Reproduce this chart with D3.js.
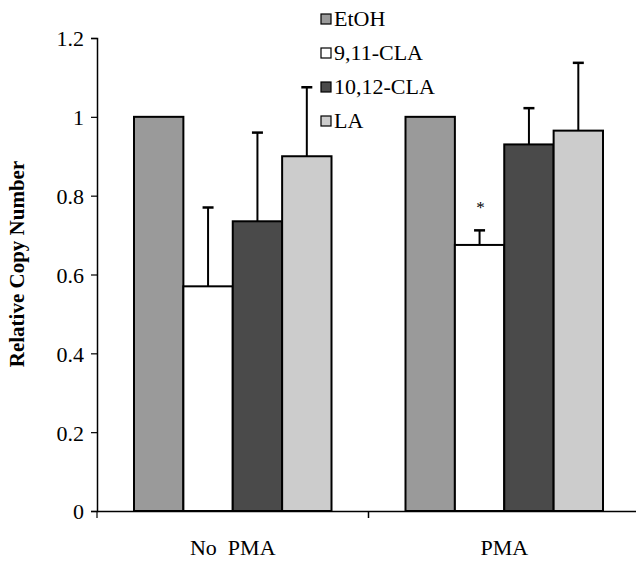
<!DOCTYPE html>
<html><head><meta charset="utf-8">
<script src="https://cdn.jsdelivr.net/npm/d3@7/dist/d3.min.js"></script>
<style>body{margin:0;background:#fff}svg{display:block}text{font-family:"Liberation Serif","Times New Roman",serif}</style>
</head><body>
<svg id="chart" width="636" height="563"></svg>
<script>
const groups = ["No PMA", "PMA"];
const series = ["EtOH", "9,11-CLA", "10,12-CLA", "LA"];
const noPmaValues = [1.0, 0.57, 0.735, 0.90];
const pmaValues = [1.0, 0.675, 0.93, 0.965];
const noPmaErrors = [0, 0.20, 0.225, 0.175];
const pmaErrors = [0, 0.037, 0.092, 0.172];
const yTicks = [0, 0.2, 0.4, 0.6, 0.8, 1, 1.2];
const yTickLabels = ["0", "0.2", "0.4", "0.6", "0.8", "1", "1.2"];
const significance = [{group: "PMA", series: "9,11-CLA", label: "*"}];

const fills = ["#9a9a9a", "#ffffff", "#4a4a4a", "#cccccc"];
const font = "Liberation Serif";

const svg = d3.select("#chart");
const y = d3.scaleLinear().domain([0, 1.2]).range([511, 38]);
const x0 = d3.scaleBand().domain(groups).range([97, 640]).padding(0);
const x1 = d3.scaleBand().domain(series).range([37, x0.bandwidth() - 37]).padding(0);

const data = groups.map((g, gi) => series.map((s, si) => ({
  group: g, series: s, si,
  value: gi === 0 ? noPmaValues[si] : pmaValues[si],
  err: gi === 0 ? noPmaErrors[si] : pmaErrors[si]
}))).flat();

// error bars (behind bars)
const eb = svg.append("g").attr("stroke", "#000").attr("stroke-width", 2);
data.filter(d => d.err > 0).forEach(d => {
  const cx = x0(d.group) + x1(d.series) + x1.bandwidth() / 2;
  eb.append("line").attr("x1", cx).attr("x2", cx).attr("y1", y(d.value)).attr("y2", y(d.value + d.err));
  eb.append("line").attr("x1", cx - 5.5).attr("x2", cx + 5.5).attr("y1", y(d.value + d.err)).attr("y2", y(d.value + d.err)).attr("stroke-width", 2.5);
});

// bars
svg.append("g").selectAll("rect").data(data).join("rect")
  .attr("x", d => x0(d.group) + x1(d.series))
  .attr("y", d => y(d.value))
  .attr("width", x1.bandwidth())
  .attr("height", d => y(0) - y(d.value))
  .attr("fill", d => fills[d.si])
  .attr("stroke", "#000").attr("stroke-width", 2);

// significance
svg.append("g").selectAll("text").data(significance).join("text")
  .attr("x", d => x0(d.group) + x1(d.series) + x1.bandwidth() / 2 + 1)
  .attr("y", d => {
    const i = series.indexOf(d.series);
    return y(pmaValues[i] + pmaErrors[i]) - 17;
  })
  .attr("text-anchor", "middle").attr("font-family", font).attr("font-size", 17)
  .text(d => d.label);

// y axis
const yAxis = d3.axisLeft(y).tickValues(yTicks).tickFormat((d, i) => yTickLabels[i]).tickSizeOuter(0).tickSize(6).tickPadding(7);
const gy = svg.append("g").attr("transform", "translate(97,0)").call(yAxis);
gy.select(".domain").attr("stroke", "#000").attr("stroke-width", 1.5);
gy.selectAll(".tick line").attr("stroke", "#000").attr("stroke-width", 1.2);
gy.selectAll(".tick text").attr("font-family", font).attr("font-size", 22).attr("fill", "#000").attr("dy", "0.36em");

// x axis
const xAxis = d3.axisBottom(x0).tickSize(0).tickPadding(28).tickSizeOuter(0);
const gx = svg.append("g").attr("transform", `translate(0,${y(0)})`).call(xAxis);
gx.select(".domain").attr("stroke", "#000").attr("stroke-width", 1.5);
gx.selectAll(".tick text").attr("font-family", font).attr("font-size", 22).attr("fill", "#000")
  .text(d => d === "No PMA" ? "No\u00a0\u00a0PMA" : d);
gx.selectAll(".bound").data(groups.slice(1)).join("line").attr("class", "bound")
  .attr("x1", d => x0(d)).attr("x2", d => x0(d)).attr("y1", 0).attr("y2", 7)
  .attr("stroke", "#000").attr("stroke-width", 1.5);
gx.append("line").attr("x1", 97).attr("x2", 97).attr("y1", 0).attr("y2", 7).attr("stroke", "#000").attr("stroke-width", 1.2);

// y title
svg.append("text").attr("transform", "translate(24,264) rotate(-90)")
  .attr("text-anchor", "middle").attr("font-family", font).attr("font-weight", "bold").attr("font-size", 21)
  .text("Relative Copy Number");

// legend
const lg = svg.append("g").selectAll("g").data(series).join("g")
  .attr("transform", (d, i) => `translate(321,${19 + i * 34})`);
lg.append("rect").attr("x", 0).attr("y", -5).attr("width", 10).attr("height", 10)
  .attr("fill", (d, i) => fills[i]).attr("stroke", "#000").attr("stroke-width", 1.2);
lg.append("text").attr("x", 13).attr("y", 7).attr("font-family", font).attr("font-size", 22).text(d => d);
</script>
</body></html>
